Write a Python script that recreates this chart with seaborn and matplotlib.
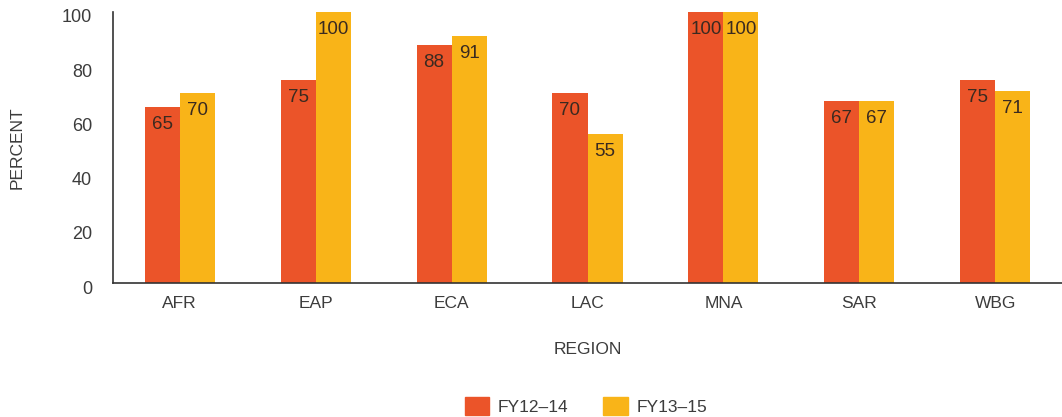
import matplotlib
matplotlib.use("Agg")
import matplotlib.pyplot as plt
import matplotlib.transforms as mtransforms
import seaborn as sns
import pandas as pd

regions = ["AFR", "EAP", "ECA", "LAC", "MNA", "SAR", "WBG"]
fy12_14 = [65, 75, 88, 70, 100, 67, 75]
fy13_15 = [70, 100, 91, 55, 100, 67, 71]
series_names = ["FY12–14", "FY13–15"]
colors = ["#EB5429", "#F9B418"]

df = pd.DataFrame({
    "region": regions * 2,
    "value": fy12_14 + fy13_15,
    "series": [series_names[0]] * len(regions) + [series_names[1]] * len(regions),
})

sns.set_style("white")
plt.rcParams["font.family"] = ["Liberation Sans", "DejaVu Sans"]

W, H = 1062, 417
fig = plt.figure(figsize=(W / 100, H / 100), dpi=100)
ax = fig.add_axes([113 / W, 1 - 283 / H, (1062 - 113) / W, (283 - 12) / H])

sns.barplot(data=df, x="region", y="value", hue="series", palette=colors,
            width=0.515, dodge=True, ax=ax, legend=False, saturation=1,
            edgecolor="none", linewidth=0)

ax.set_ylim(0, 100)
ax.set_xlim(-0.49, 6.49)
ax.set_yticks([0, 20, 40, 60, 80, 100])
ax.tick_params(axis="both", length=0, labelcolor="#3c3c3c")
ax.tick_params(axis="y", pad=15, labelsize=13)
ax.tick_params(axis="x", pad=9, labelsize=12.5)
offset = mtransforms.ScaledTranslation(0, -4 / 100, fig.dpi_scale_trans)
for lbl in ax.get_yticklabels():
    lbl.set_transform(lbl.get_transform() + offset)

for s in ["top", "right"]:
    ax.spines[s].set_visible(False)
for s in ["left", "bottom"]:
    ax.spines[s].set_color("#333333")
    ax.spines[s].set_linewidth(1.2)

ax.set_xlabel("REGION", fontsize=12.5, color="#3c3c3c", labelpad=23)
ax.set_ylabel("PERCENT", fontsize=12.5, color="#3c3c3c", labelpad=27)

for cont in ax.containers:
    for bar in cont:
        h = bar.get_height()
        ax.annotate(f"{h:.0f}", (bar.get_x() + bar.get_width() / 2, h),
                    xytext=(0, -6.5), textcoords="offset points",
                    ha="center", va="top", fontsize=13.5, color="#3a2a20")

handles = [plt.Rectangle((0, 0), 1, 1, color=c) for c in colors]
fig.legend(handles, series_names, loc="center", bbox_to_anchor=(586 / W, 1 - 406 / H),
           ncol=2, frameon=False, fontsize=12.5, handlelength=1.4, handleheight=1.2,
           columnspacing=2.0, handletextpad=0.5, labelcolor="#3c3c3c")

fig.savefig("out.png", dpi=100)
